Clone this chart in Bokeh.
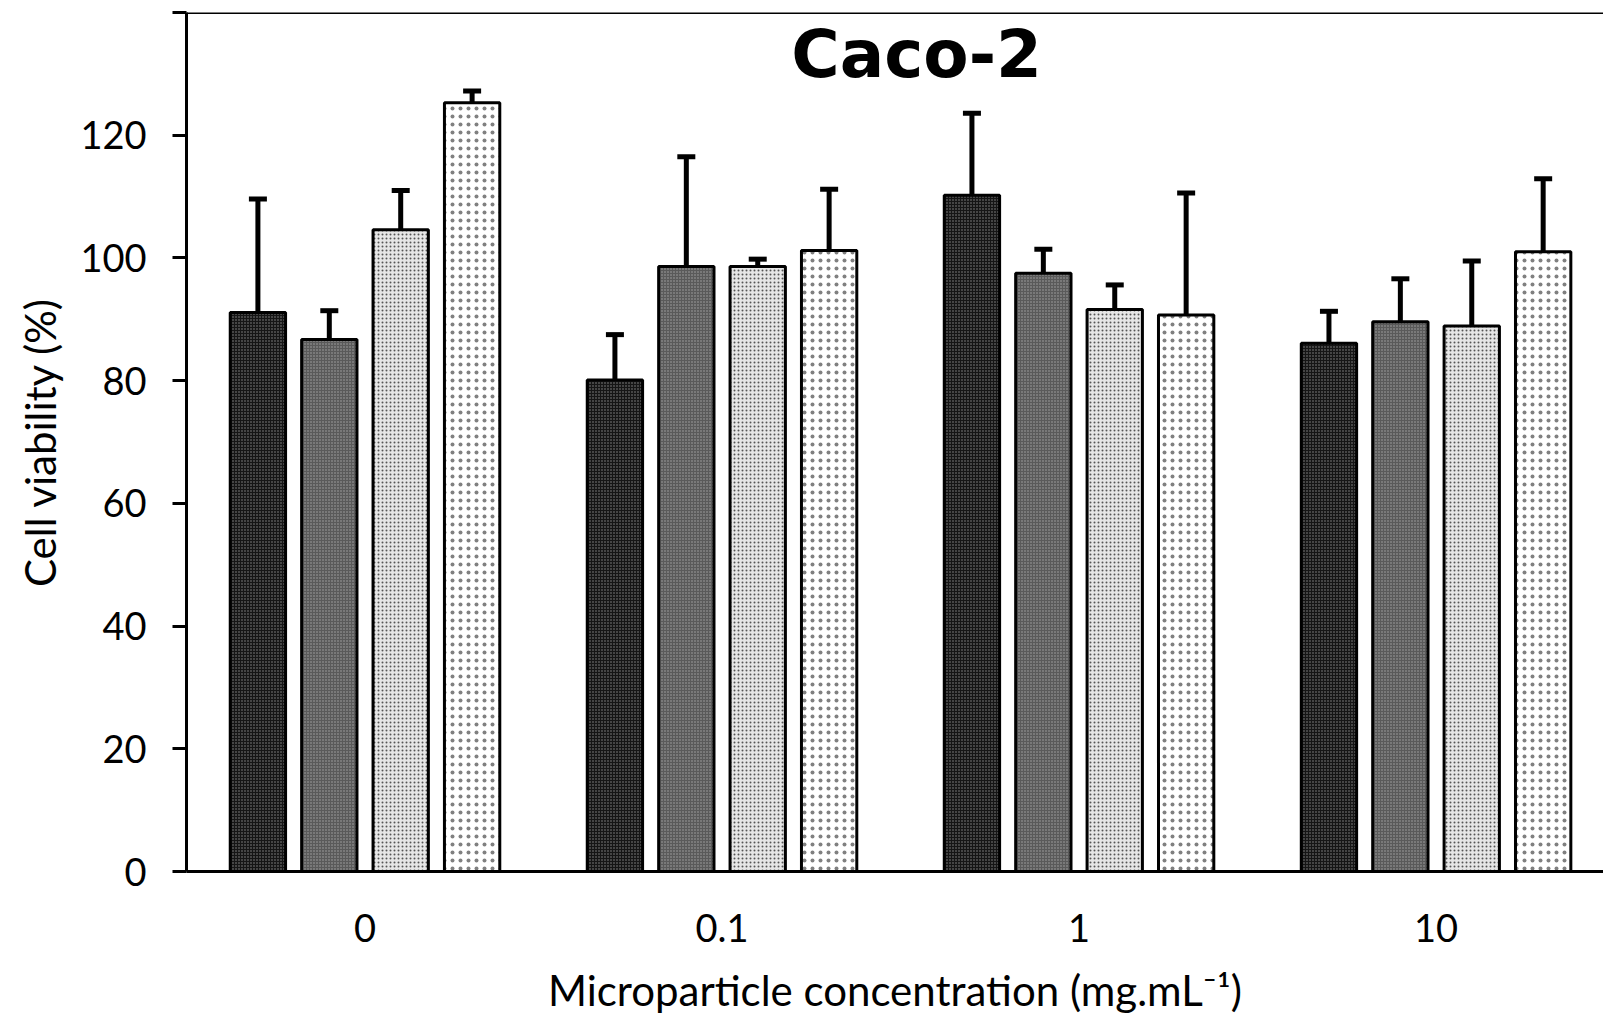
import numpy as np
from bokeh.plotting import figure
from bokeh.models import (ColumnDataSource, FixedTicker, Whisker, TeeHead, Span, Label)
from bokeh.embed import file_html
from bokeh.resources import INLINE

# ---------------- data ----------------
concentrations = ["0", "0.1", "1", "10"]
series_names = ["Series 1", "Series 2", "Series 3", "Series 4"]

s1_mean = [91.1, 80.1, 110.2, 86.1]
s1_err = [18.5, 7.4, 13.4, 5.2]
s2_mean = [86.7, 98.6, 97.5, 89.6]
s2_err = [4.7, 17.9, 3.9, 7.0]
s3_mean = [104.6, 98.6, 91.6, 88.9]
s3_err = [6.4, 1.2, 4.0, 10.6]
s4_mean = [125.3, 101.2, 90.7, 101.0]
s4_err = [1.9, 10.0, 19.9, 11.9]

y_ticks = [0, 20, 40, 60, 80, 100, 120, 140]

means = [s1_mean, s2_mean, s3_mean, s4_mean]
errs = [s1_err, s2_err, s3_err, s4_err]

# ---------------- styles ----------------
offsets = [-0.3, -0.1, 0.1, 0.3]
bar_width = 0.155
styles = [
    dict(fill_color="#151515", hatch_pattern="dot", hatch_color="#8c8c8c", hatch_scale=3, hatch_weight=1),
    dict(fill_color="#5a5a5a", hatch_pattern="dot", hatch_color="#a6a6a6", hatch_scale=3, hatch_weight=1),
    dict(fill_color="#e6e6e6", hatch_pattern="dot", hatch_color="#555555", hatch_scale=4, hatch_weight=1),
    dict(fill_color="#ffffff", hatch_pattern="dot", hatch_color="#808080", hatch_scale=8, hatch_weight=1),
]

FONT = "Lato"

p = figure(width=1603, height=1021, output_backend="svg", toolbar_location=None,
           x_range=(0, 3.969), y_range=(0, 140),
           min_border_left=186, min_border_right=0, min_border_top=12, min_border_bottom=150)
p.outline_line_color = None
p.xgrid.grid_line_color = None
p.ygrid.grid_line_color = None
p.background_fill_color = "white"
p.border_fill_color = "white"

base = np.arange(len(concentrations)) + 0.5
for k in range(4):
    x = base + offsets[k]
    top = np.array(means[k])
    upper = top + np.array(errs[k])
    src = ColumnDataSource(dict(x=x, top=top, upper=upper, conc=concentrations))
    p.vbar(x="x", top="top", bottom=0, width=bar_width, source=src,
           line_color="black", line_width=3, **styles[k])
    w = Whisker(source=src, base="x", lower="top", upper="upper",
                line_color="black", line_width=5, level="overlay",
                lower_head=None,
                upper_head=TeeHead(size=18, line_width=5, line_color="black"))
    p.add_layout(w)

# top border line
p.add_layout(Span(location=140, dimension="width", line_color="black", line_width=3))

# y axis
p.yaxis.ticker = FixedTicker(ticks=y_ticks)
p.yaxis.major_label_overrides = {140: ""}
p.yaxis.axis_line_width = 3
p.yaxis.major_tick_line_width = 3
p.yaxis.major_tick_out = 14
p.yaxis.major_tick_in = 0
p.yaxis.minor_tick_line_color = None
p.yaxis.major_label_text_font = FONT
p.yaxis.major_label_text_font_size = "38px"
p.yaxis.major_label_text_color = "black"
p.yaxis.major_label_standoff = 26
p.yaxis.axis_label = "Cell viability (%)"
p.yaxis.axis_label_text_font = FONT
p.yaxis.axis_label_text_font_size = "42px"
p.yaxis.axis_label_text_font_style = "normal"
p.yaxis.axis_label_text_color = "black"
p.yaxis.axis_label_standoff = 12

# x axis
p.xaxis.ticker = FixedTicker(ticks=list(base))
p.xaxis.major_label_overrides = {float(b): c for b, c in zip(base, concentrations)}
p.xaxis.axis_line_width = 3
p.xaxis.major_tick_line_color = None
p.xaxis.minor_tick_line_color = None
p.xaxis.major_label_text_font = FONT
p.xaxis.major_label_text_font_size = "38px"
p.xaxis.major_label_text_color = "black"
p.xaxis.major_label_standoff = 36
p.xaxis.axis_label = "Microparticle concentration (mg.mL\u207b\u00b9)"
p.xaxis.axis_label_text_font = FONT
p.xaxis.axis_label_text_font_size = "42px"
p.xaxis.axis_label_text_font_style = "normal"
p.xaxis.axis_label_text_color = "black"
p.xaxis.axis_label_standoff = 20

# chart title inside plot
p.add_layout(Label(x=2.045, y=133.1, text="Caco-2", text_align="center",
                   text_baseline="alphabetic", text_font="DejaVu Sans",
                   text_font_style="bold", text_font_size="66px", text_color="black"))

open("out.html", "w").write(file_html(p, INLINE))
